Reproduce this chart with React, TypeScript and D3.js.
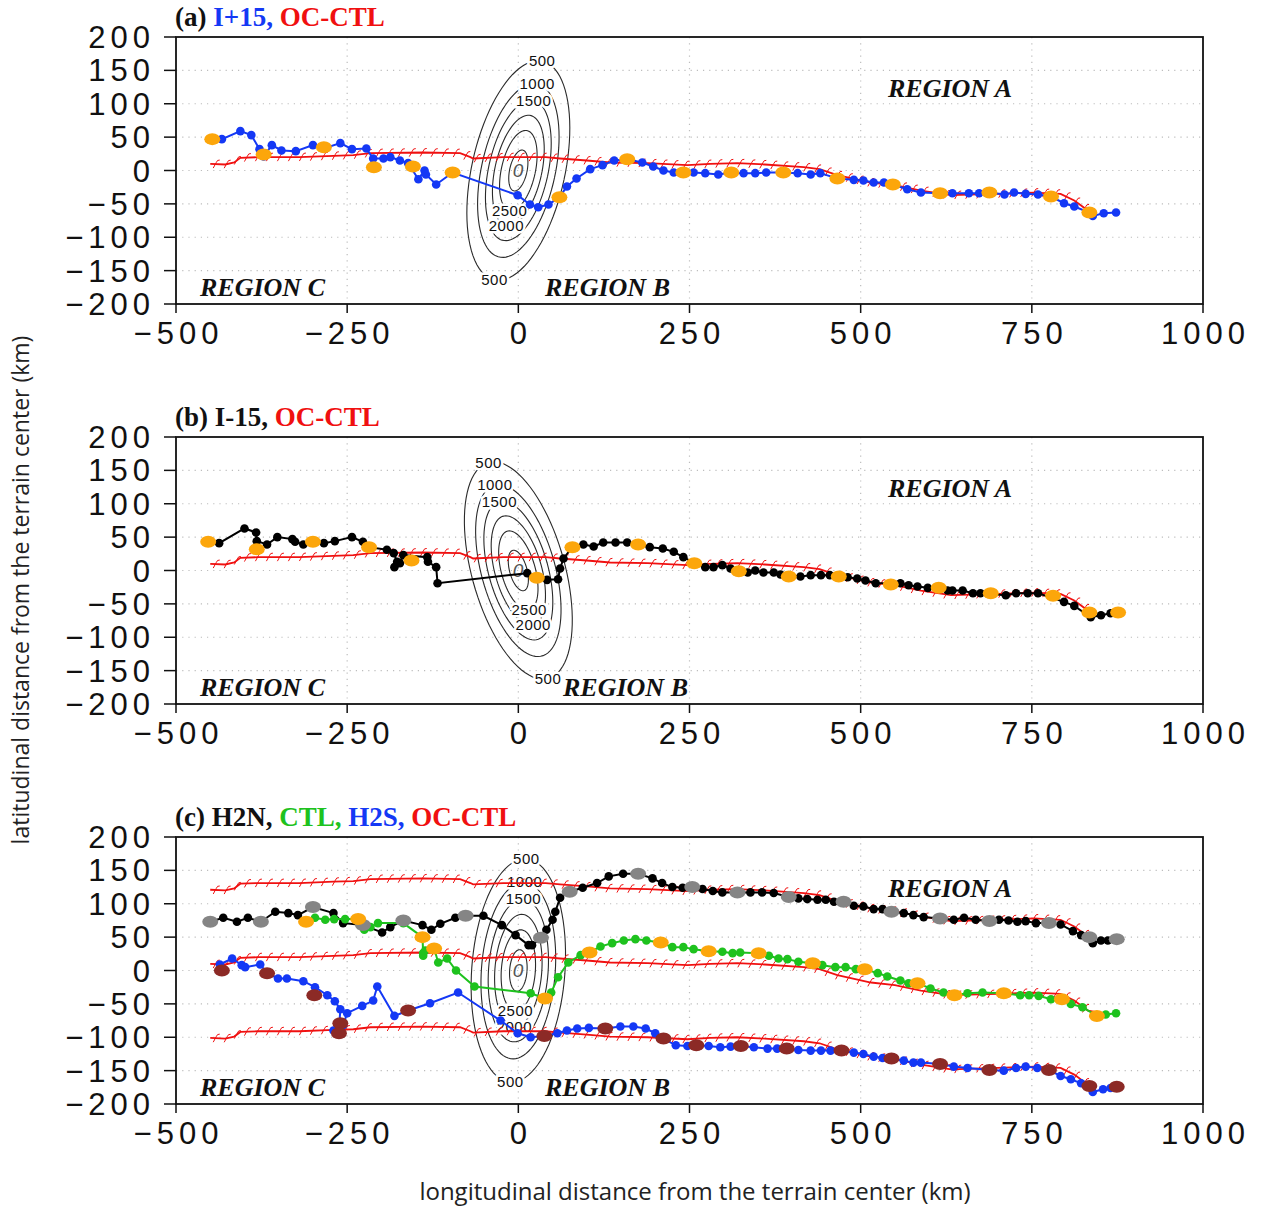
import React from "react";
import * as d3 from "d3";

type P = [number, number];

// OC-CTL track (red barbed line), km
const ocCtl: P[] = [
  [-450, 10], [-428, 9], [-415, 12], [-406, 19], [-380, 20], [-320, 20], [-270, 22], [-241, 23],
  [-216, 26], [-139, 27], [-85, 26], [-70, 20], [-66, 18], [-22, 20], [0, 20], [40, 20], [61, 18],
  [100, 15], [134, 12], [189, 11], [247, 8], [280, 10], [320, 11], [360, 9], [417, 5], [440, 2],
  [466, -7], [515, -18], [550, -22], [588, -30], [632, -37], [700, -35], [753, -33], [792, -35],
  [812, -45], [832, -60], [842, -62],
];
// latitude shifts of OC-CTL used in panel (c): H2N, CTL, H2S
const ocCtlShift = [111, 0, -111];

// (a) I+15
const iPlus15: P[] = [
  [-447, 47], [-433, 47], [-406, 59], [-390, 53], [-378, 32], [-372, 21], [-360, 38], [-346, 30],
  [-325, 29], [-300, 38], [-284, 33], [-260, 41], [-243, 32], [-222, 33], [-212, 18], [-197, 18],
  [-187, 20], [-173, 15], [-161, 11], [-146, -13], [-137, 0], [-135, -6], [-120, -21], [-96, -3],
  [-1, -37], [17, -51], [29, -55], [44, -51], [60, -40], [71, -24], [85, -12], [105, 2], [123, 8],
  [140, 15], [159, 17], [181, 12], [197, 6], [212, 0], [227, -3], [241, -3], [256, -3], [273, -4],
  [292, -6], [311, -3], [329, -4], [346, -4], [362, -3], [387, -3], [408, -4], [427, -6], [441, -4],
  [466, -12], [490, -14], [504, -15], [519, -18], [534, -18], [547, -21], [568, -28], [588, -33],
  [616, -34], [634, -34], [658, -34], [673, -34], [688, -33], [710, -36], [724, -33], [741, -35],
  [759, -36], [778, -39], [797, -49], [812, -54], [834, -63], [839, -68], [855, -64], [873, -63],
];
const iPlus15Marks: P[] = [
  [-447, 47], [-372, 24], [-284, 35], [-211, 5], [-154, 6], [-96, -3], [60, -40], [159, 17],
  [241, -3], [311, -3], [387, -3], [466, -12], [547, -21], [616, -34], [688, -33], [778, -39], [834, -63],
];

// (b) I-15
const iMinus15: P[] = [
  [-453, 43], [-437, 41], [-400, 63], [-383, 57], [-382, 44], [-367, 39], [-352, 50], [-330, 47],
  [-326, 43], [-314, 39], [-300, 43], [-284, 41], [-268, 44], [-243, 50], [-227, 43], [-218, 35],
  [-192, 31], [-182, 26], [-177, 13], [-181, 5], [-173, 11], [-168, 23], [-133, 20], [-132, 13],
  [-120, 5], [-118, -19], [13, -4], [42, -14], [58, -13], [61, 3], [66, 18], [79, 35], [95, 39],
  [110, 36], [124, 42], [142, 42], [159, 42], [175, 39], [192, 35], [211, 33], [227, 28], [241, 20],
  [257, 11], [273, 5], [285, 5], [298, 8], [310, 3], [335, -3], [346, 0], [358, -3], [373, -3],
  [383, -6], [412, -9], [427, -7], [442, -7], [455, -7], [481, -10], [495, -12], [507, -15],
  [522, -19], [558, -19], [570, -22], [583, -24], [598, -26], [627, -30], [634, -30], [649, -30],
  [664, -34], [675, -34], [712, -37], [727, -34], [744, -34], [759, -34], [797, -47], [812, -53],
  [836, -70], [851, -67], [865, -64], [876, -63],
];
const iMinus15Marks: P[] = [
  [-453, 43], [-382, 32], [-300, 43], [-218, 35], [-156, 15], [27, -11], [79, 35], [175, 39],
  [257, 11], [322, -1], [395, -9], [468, -9], [544, -21], [614, -26], [690, -34], [781, -38],
  [834, -63], [876, -63],
];

// (c) H2N
const h2n: P[] = [
  [-450, 73], [-431, 79], [-411, 73], [-395, 79], [-376, 73], [-355, 88], [-336, 86], [-322, 83],
  [-300, 95], [-270, 86], [-256, 71], [-227, 68], [-199, 57], [-187, 65], [-168, 75], [-140, 68],
  [-127, 61], [-114, 70], [-92, 79], [-77, 82], [-51, 82], [-24, 68], [-4, 53], [15, 38], [20, 38],
  [33, 49], [41, 61], [50, 76], [54, 88], [61, 109], [75, 118], [94, 124], [115, 131], [132, 141],
  [153, 145], [175, 145], [196, 138], [210, 131], [225, 125], [240, 124], [254, 125], [269, 122],
  [284, 119], [298, 117], [320, 117], [339, 117], [356, 117], [373, 116], [395, 110], [409, 108],
  [422, 107], [437, 106], [449, 106], [461, 103], [475, 103], [490, 97], [504, 96], [519, 92],
  [532, 92], [545, 88], [563, 86], [577, 83], [592, 80], [616, 78], [636, 76], [651, 79], [668, 76],
  [688, 74], [702, 76], [716, 75], [729, 73], [741, 74], [756, 71], [775, 71], [792, 69], [810, 59],
  [822, 53], [834, 50], [839, 41], [851, 45], [861, 45], [874, 47],
];
const h2nMarks: P[] = [
  [-450, 73], [-376, 73], [-300, 95], [-227, 68], [-168, 75], [-77, 82], [33, 49], [75, 118],
  [175, 145], [254, 125], [320, 117], [395, 110], [475, 103], [545, 88], [616, 78], [688, 74],
  [775, 71], [834, 50], [874, 47],
];

// (c) CTL
const ctl: P[] = [
  [-310, 73], [-297, 79], [-282, 76], [-269, 77], [-253, 77], [-234, 77], [-225, 61], [-216, 65],
  [-205, 71], [-168, 71], [-140, 50], [-139, 26], [-139, 22], [-136, 30], [-123, 33], [-117, 12],
  [-104, 18], [-91, 0], [-64, -24], [18, -34], [39, -42], [48, -33], [58, -10], [73, 12], [91, 23],
  [104, 27], [120, 36], [137, 41], [154, 45], [171, 47], [187, 45], [208, 42], [225, 35], [241, 35],
  [256, 32], [278, 29], [298, 28], [313, 26], [324, 27], [351, 26], [366, 22], [380, 18], [393, 17],
  [409, 13], [430, 11], [444, 8], [463, 5], [478, 5], [493, 2], [506, 2], [525, -4], [539, -9],
  [558, -15], [570, -19], [583, -19], [602, -27], [621, -33], [637, -37], [656, -34], [678, -33],
  [709, -34], [733, -37], [746, -37], [760, -38], [778, -43], [794, -43], [807, -50], [824, -55],
  [845, -68], [858, -66], [873, -64],
];
const ctlMarks: P[] = [
  [-310, 73], [-234, 77], [-140, 50], [-123, 33], [39, -42], [104, 27], [208, 42], [278, 29],
  [351, 26], [430, 11], [506, 2], [583, -19], [637, -37], [709, -34], [794, -43], [845, -68],
];

// (c) H2S
const h2s: P[] = [
  [-436, 9], [-418, 18], [-404, 8], [-399, 5], [-377, 9], [-367, -4], [-351, -12], [-338, -12],
  [-314, -16], [-297, -25], [-279, -37], [-268, -46], [-260, -58], [-262, -90], [-270, -90],
  [-256, -82], [-250, -64], [-228, -53], [-212, -45], [-206, -24], [-181, -68], [-161, -60],
  [-129, -49], [-88, -33], [-26, -75], [-1, -94], [18, -100], [38, -98], [57, -94], [71, -90],
  [86, -87], [103, -86], [127, -87], [149, -84], [168, -84], [186, -87], [200, -94], [212, -102],
  [230, -112], [247, -113], [260, -112], [278, -113], [295, -115], [310, -114], [325, -113],
  [344, -115], [364, -117], [378, -117], [392, -117], [409, -119], [427, -120], [442, -120],
  [456, -120], [472, -120], [490, -123], [504, -125], [519, -129], [532, -131], [545, -132],
  [563, -135], [577, -138], [588, -138], [616, -140], [636, -144], [656, -146], [688, -149],
  [709, -150], [727, -146], [741, -144], [758, -146], [775, -149], [792, -158], [807, -163],
  [822, -169], [834, -173], [839, -182], [854, -178], [865, -176], [874, -174],
];
const h2sMarks: P[] = [
  [-433, 0], [-367, -4], [-298, -37], [-260, -79], [-262, -94], [-161, -60], [38, -98], [127, -87],
  [212, -102], [260, -112], [325, -113], [392, -117], [472, -120], [545, -132], [616, -140],
  [688, -149], [775, -149], [834, -173], [874, -174],
];

// terrain (elliptic gaussian), m
const terrainPeak = 3200;
const terrainLevels = [500, 1000, 1500, 2000, 2500, 3000];
const labelsTop = [500, 1000, 1500];
const labelsBottom = [2500, 2000, 500];
const terrainHalfWidth: P = [50, 123]; // km, cross / along major axis
const terrainTilt = [12, -15, 4]; // degrees, per panel

const xTicks = [-500, -250, 0, 250, 500, 750, 1000];
const yTicks = [-200, -150, -100, -50, 0, 50, 100, 150, 200];
const xGrid = [-250, 0, 250, 500, 750];
const yGrid = [-150, -100, -50, 0, 50, 100, 150];

const BLUE = "#1438f5";
const RED = "#f01010";
const ORANGE = "#fca60b";
const GREEN = "#1ec21e";
const GRAY = "#858585";
const BROWN = "#8c2a26";

const W = 1262;
const H = 1207;
const left = 176;
const right = 1203;
const plotH = 267;
const tops = [37, 437, 837];

const panels = [
  {
    title: [["(a) ", "#111"], ["I+15, ", BLUE], ["OC-CTL", RED]],
    tracks: [{ pts: iPlus15, color: BLUE, marks: iPlus15Marks, markColor: ORANGE }],
    shifts: [0],
    regionB: 545,
  },
  {
    title: [["(b) I-15, ", "#111"], ["OC-CTL", RED]],
    tracks: [{ pts: iMinus15, color: "#000", marks: iMinus15Marks, markColor: ORANGE }],
    shifts: [0],
    regionB: 563,
  },
  {
    title: [["(c) H2N, ", "#111"], ["CTL, ", GREEN], ["H2S, ", BLUE], ["OC-CTL", RED]],
    tracks: [
      { pts: h2n, color: "#000", marks: h2nMarks, markColor: GRAY },
      { pts: ctl, color: GREEN, marks: ctlMarks, markColor: ORANGE },
      { pts: h2s, color: BLUE, marks: h2sMarks, markColor: BROWN },
    ],
    shifts: ocCtlShift,
    regionB: 545,
  },
];

const x = d3.scaleLinear().domain([-500, 1000]).range([left, right]);

function barbs(pts: P[], step = 11) {
  let out = "";
  let acc = step / 2;
  for (let i = 1; i < pts.length; i++) {
    const [x0, y0] = pts[i - 1];
    const [x1, y1] = pts[i];
    const len = Math.hypot(x1 - x0, y1 - y0);
    let d = acc;
    while (d <= len) {
      const t = d / len;
      const px = x0 + (x1 - x0) * t;
      const py = y0 + (y1 - y0) * t;
      out += `M${px - 2.5},${py + 4}L${px + 0.5},${py - 1.5}Q${px + 1.5},${py - 4.5} ${px + 4},${py - 4}`;
      d += step;
    }
    acc = d - len;
  }
  return out;
}

function Panel({ idx }: { idx: number }) {
  const p = panels[idx];
  const top = tops[idx];
  const y = d3.scaleLinear().domain([-200, 200]).range([top + plotH, top]);
  const line = d3.line<P>().x((d) => x(d[0])).y((d) => y(d[1]));
  const tilt = (terrainTilt[idx] * Math.PI) / 180;
  const [a, b] = terrainHalfWidth;
  const rot = (u: number, v: number): P => [
    u * Math.cos(tilt) + v * Math.sin(tilt),
    -u * Math.sin(tilt) + v * Math.cos(tilt),
  ];
  const sc = (L: number) => Math.sqrt(Math.log(terrainPeak / L));
  const ellipse = (L: number) => {
    const s = sc(L);
    const pts: P[] = d3.range(0, 361, 4).map((deg) => {
      const t = (deg * Math.PI) / 180;
      return rot(a * s * Math.cos(t), b * s * Math.sin(t));
    });
    return line(pts) || "";
  };
  const labelStyle: React.CSSProperties = {
    fontFamily: "Liberation Sans, Arial, sans-serif",
    fontSize: 15,
    letterSpacing: 0.5,
  };
  const contourLabel = (L: number, sign: number, key: string) => {
    const [u, v] = rot(0, sign * b * sc(L));
    return (
      <text
        key={key}
        x={x(u)}
        y={y(v)}
        dy="0.35em"
        textAnchor="middle"
        fill="#111"
        stroke="#fff"
        strokeWidth={5}
        paintOrder="stroke"
        style={labelStyle}
      >
        {L}
      </text>
    );
  };

  const tickFont: React.CSSProperties = {
    fontFamily: "Liberation Sans, Arial, sans-serif",
    fontSize: 31,
    letterSpacing: 5,
  };
  const regionFont: React.CSSProperties = {
    fontFamily: "Liberation Serif, Times New Roman, serif",
    fontSize: 26,
    fontWeight: "bold",
    fontStyle: "italic",
  };

  return (
    <g>
      <defs>
        <clipPath id={`clip${idx}`}>
          <rect x={left} y={top} width={right - left} height={plotH} />
        </clipPath>
      </defs>
      {/* grid */}
      {xGrid.map((v) => (
        <line key={"gx" + v} x1={x(v)} x2={x(v)} y1={top} y2={top + plotH} stroke="#bdbdbd" strokeWidth={1.2} strokeDasharray="1.2 5" />
      ))}
      {yGrid.map((v) => (
        <line key={"gy" + v} x1={left} x2={right} y1={y(v)} y2={y(v)} stroke="#bdbdbd" strokeWidth={1.2} strokeDasharray="1.2 5" />
      ))}
      <g clipPath={`url(#clip${idx})`}>
        {/* terrain contours */}
        {terrainLevels.map((L) => (
          <path key={"c" + L} d={ellipse(L)} fill="none" stroke="#2a2a2a" strokeWidth={1.1} />
        ))}
        {labelsTop.map((L) => contourLabel(L, 1, "lt" + L))}
        {labelsBottom.map((L) => contourLabel(L, -1, "lb" + L))}
        <text x={x(0)} y={y(0)} dy="0.35em" textAnchor="middle" fill="#555" fontStyle="italic" style={{ ...labelStyle, fontSize: 19 }}>
          0
        </text>
        {/* OC-CTL */}
        {p.shifts.map((s) => {
          const pts: P[] = ocCtl.map((d) => [d[0], d[1] + s]);
          const px: P[] = pts.map((d) => [x(d[0]), y(d[1])]);
          return (
            <g key={"r" + s}>
              <path d={line(pts) || ""} fill="none" stroke={RED} strokeWidth={1.8} />
              <path d={barbs(px)} fill="none" stroke={RED} strokeWidth={1} />
            </g>
          );
        })}
        {/* trajectories */}
        {p.tracks.map((t, i) => (
          <g key={"t" + i}>
            <path d={line(t.pts) || ""} fill="none" stroke={t.color} strokeWidth={2} />
            {t.pts.map((d, j) => (
              <circle key={j} cx={x(d[0])} cy={y(d[1])} r={4.3} fill={t.color} />
            ))}
          </g>
        ))}
        {p.tracks.map((t, i) => (
          <g key={"m" + i}>
            {t.marks.map((d, j) => (
              <ellipse key={j} cx={x(d[0])} cy={y(d[1])} rx={8} ry={6} fill={t.markColor} />
            ))}
          </g>
        ))}
      </g>
      {/* region labels */}
      <text x={888} y={top + 60} style={regionFont} fill="#111">REGION A</text>
      <text x={200} y={top + 259} style={regionFont} fill="#111">REGION C</text>
      <text x={p.regionB} y={top + 259} style={regionFont} fill="#111">REGION B</text>
      {/* frame */}
      <rect x={left} y={top} width={right - left} height={plotH} fill="none" stroke="#111" strokeWidth={1.8} />
      {/* axes */}
      {yTicks.map((v) => (
        <g key={"yt" + v}>
          <line x1={left - 12} x2={left} y1={y(v)} y2={y(v)} stroke="#111" strokeWidth={1.5} />
          <text x={left - 21} y={y(v) + 11} textAnchor="end" style={tickFont} fill="#111">
            {v < 0 ? "\u2212" + Math.abs(v) : v}
          </text>
        </g>
      ))}
      {xTicks.map((v) => (
        <g key={"xt" + v}>
          <line x1={x(v)} x2={x(v)} y1={top + plotH} y2={top + plotH + 9} stroke="#111" strokeWidth={1.5} />
          <text x={x(v) + 2.5} y={top + plotH + 40} textAnchor="middle" style={tickFont} fill="#111">
            {v < 0 ? "\u2212" + Math.abs(v) : v}
          </text>
        </g>
      ))}
      {/* title */}
      <text x={175} y={top - 11} style={{ fontFamily: "Liberation Serif, Times New Roman, serif", fontSize: 27, fontWeight: "bold" }}>
        {p.title.map(([s, c], i) => (
          <tspan key={i} fill={c} xmlSpace="preserve">
            {s}
          </tspan>
        ))}
      </text>
    </g>
  );
}

export default function App() {
  return (
    <div style={{ position: "absolute", left: 0, top: 0 }}>
      <svg width={W} height={H} viewBox={`0 0 ${W} ${H}`} style={{ display: "block", background: "#fff" }}>
        <rect width={W} height={H} fill="#fff" />
        {panels.map((_, i) => (
          <Panel key={i} idx={i} />
        ))}
        <text
          transform="translate(29,590) rotate(-90)"
          textAnchor="middle"
          style={{ fontFamily: "Open Sans, Noto Sans, sans-serif", fontSize: 23 }}
          fill="#222"
        >
          latitudinal distance from the terrain center (km)
        </text>
        <text
          x={695}
          y={1200}
          textAnchor="middle"
          style={{ fontFamily: "Open Sans, Noto Sans, sans-serif", fontSize: 24 }}
          fill="#222"
        >
          longitudinal distance from the terrain center (km)
        </text>
      </svg>
    </div>
  );
}
